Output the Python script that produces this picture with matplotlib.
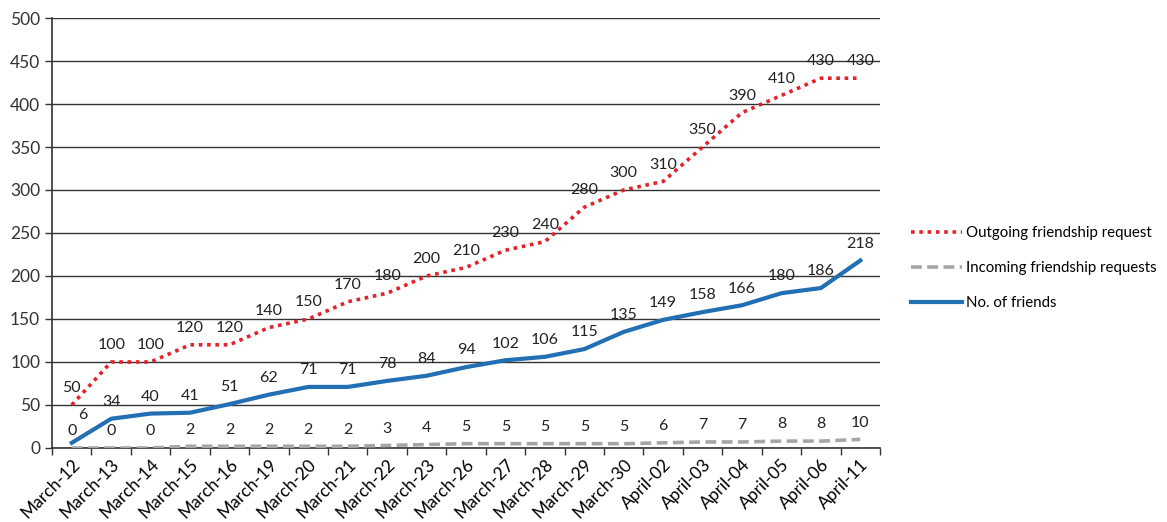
import matplotlib

matplotlib.use("Agg")
import matplotlib.pyplot as plt
import numpy as np

plt.rcParams["font.family"] = ["Lato", "DejaVu Sans"]

dates = [
    "March-12", "March-13", "March-14", "March-15", "March-16", "March-19",
    "March-20", "March-21", "March-22", "March-23", "March-26", "March-27",
    "March-28", "March-29", "March-30", "April-02", "April-03", "April-04",
    "April-05", "April-06", "April-11",
]
outgoing = [50, 100, 100, 120, 120, 140, 150, 170, 180, 200, 210, 230,
            240, 280, 300, 310, 350, 390, 410, 430, 430]
incoming = [0, 0, 0, 2, 2, 2, 2, 2, 3, 4, 5, 5, 5, 5, 5, 6, 7, 7, 8, 8, 10]
friends = [6, 34, 40, 41, 51, 62, 71, 71, 78, 84, 94, 102, 106, 115, 135,
           149, 158, 166, 180, 186, 218]

x = np.arange(len(dates))

fig = plt.figure(figsize=(11.67, 5.22), dpi=100)
ax = fig.add_axes([0.0446, 0.1418, 0.7095, 0.8237])

ax.plot(x, outgoing, color="#e32229", linestyle=(0, (1, 1.3)), linewidth=2.6,
        label="Outgoing friendship request", zorder=3)
ax.plot(x, incoming, color="#a6a6a6", linestyle=(0, (3, 1.5)), linewidth=2.6,
        label="Incoming friendship requests", zorder=3)
ax.plot(x, friends, color="#236fb4", linewidth=3,
        label="No. of friends", zorder=4)

for name, series in (("out", outgoing), ("in", incoming), ("fr", friends)):
    for xi, v in zip(x, series):
        off = (0, 7)
        # first friends label would sit on top of the incoming "0"
        if name == "fr" and xi == 0:
            off = (8, 15)
        ax.annotate(str(v), (xi, v), xytext=off, textcoords="offset points",
                    ha="center", va="bottom", fontsize=11.5, color="#222222")

ax.set_xlim(-0.5, len(dates) - 0.5)
ax.set_ylim(0, 500)
ax.set_yticks(np.arange(0, 501, 50))
ax.grid(True, axis="y", color="#333333", linewidth=1)
ax.set_axisbelow(True)

ax.set_xticks(x)
ax.set_xticklabels(dates, rotation=45, ha="right", rotation_mode="anchor",
                   fontsize=12.5)
ax.set_xticks(np.arange(-0.5, len(dates), 1), minor=True)
ax.tick_params(axis="x", which="major", length=0, pad=6)
ax.tick_params(axis="x", which="minor", length=5, width=1, color="#333333")
ax.tick_params(axis="y", length=5, width=1, color="#333333", labelsize=12.5,
               labelcolor="#333333")

for side in ("top", "right"):
    ax.spines[side].set_visible(False)
for side in ("left", "bottom"):
    ax.spines[side].set_color("#333333")
    ax.spines[side].set_linewidth(1.2)

fig.legend(loc="center left", bbox_to_anchor=(0.774, 0.487), frameon=False,
           fontsize=10.8, handlelength=3.4, handletextpad=0.25,
           labelspacing=1.4, borderpad=0)

fig.savefig("out.png", dpi=100)
plt.close(fig)
